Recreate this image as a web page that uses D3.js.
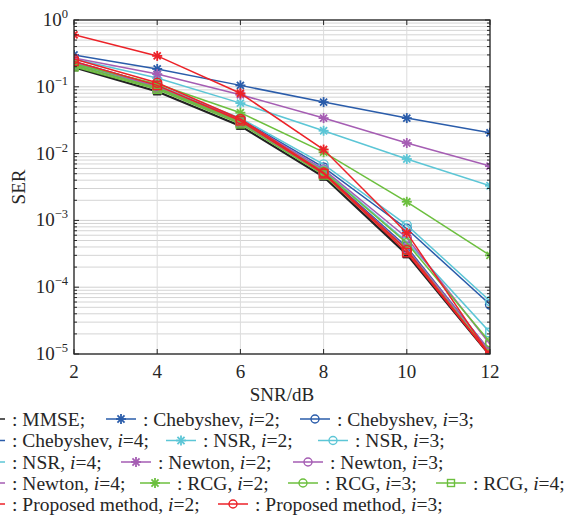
<!DOCTYPE html>
<html>
<head>
<meta charset="utf-8">
<script src="https://cdn.jsdelivr.net/npm/d3@7"></script>
<style>
  body { margin: 0; background: #fff; }
  svg { display: block; font-family: "Liberation Serif", "DejaVu Serif", serif; }
</style>
</head>
<body>
<svg id="chart" width="575" height="521"></svg>
<script>
// data
const snr = [2, 4, 6, 8, 10, 12];
const xTicks = [2, 4, 6, 8, 10, 12];
const yExps = [0, -1, -2, -3, -4, -5];

const mmse = [0.195, 0.085, 0.026, 0.0045, 0.00031, 0.0000095];
const cheb2 = [0.30, 0.185, 0.105, 0.059, 0.034, 0.0205];
const cheb3 = [0.24, 0.105, 0.033, 0.0062, 0.00075, 0.000055];
const cheb4 = [0.22, 0.098, 0.030, 0.0052, 0.00040, 0.000011];
const nsr2 = [0.26, 0.135, 0.057, 0.022, 0.0083, 0.0033];
const nsr3 = [0.23, 0.105, 0.034, 0.0069, 0.00085, 0.000062];
const nsr4 = [0.22, 0.098, 0.031, 0.0056, 0.00048, 0.000021];
const newton2 = [0.27, 0.155, 0.076, 0.034, 0.0144, 0.0065];
const newton3 = [0.23, 0.100, 0.032, 0.0058, 0.00055, 0.000014];
const newton4 = [0.21, 0.095, 0.029, 0.0050, 0.00038, 0.000011];
const rcg2 = [0.22, 0.110, 0.041, 0.0105, 0.0019, 0.0003];
const rcg3 = [0.21, 0.097, 0.030, 0.0054, 0.00046, 0.000015];
const rcg4 = [0.20, 0.092, 0.028, 0.0048, 0.00036, 0.00001];
const prop2 = [0.60, 0.29, 0.080, 0.0115, 0.00065, 0.0000095];
const prop3 = [0.26, 0.115, 0.033, 0.0052, 0.00036, 0.0000095];
const prop4 = [0.24, 0.105, 0.031, 0.0050, 0.00033, 0.0000095];

const BLUE = "#2a5caa", CYAN = "#5cc6d6", PURPLE = "#a55db3", GREEN = "#6cbf3e", RED = "#ec2228";

// draw order: bottom first
const series = [
  { name: "MMSE", vals: mmse, color: "#222", marker: "tri", width: 2.2 },
  { name: "Chebyshev", i: 2, vals: cheb2, color: BLUE, marker: "star" },
  { name: "Chebyshev", i: 3, vals: cheb3, color: BLUE, marker: "circle" },
  { name: "Chebyshev", i: 4, vals: cheb4, color: BLUE, marker: "square" },
  { name: "NSR", i: 2, vals: nsr2, color: CYAN, marker: "star" },
  { name: "NSR", i: 3, vals: nsr3, color: CYAN, marker: "circle" },
  { name: "NSR", i: 4, vals: nsr4, color: CYAN, marker: "square" },
  { name: "Newton", i: 2, vals: newton2, color: PURPLE, marker: "star" },
  { name: "Newton", i: 3, vals: newton3, color: PURPLE, marker: "circle" },
  { name: "Newton", i: 4, vals: newton4, color: PURPLE, marker: "square" },
  { name: "RCG", i: 2, vals: rcg2, color: GREEN, marker: "star" },
  { name: "RCG", i: 3, vals: rcg3, color: GREEN, marker: "circle" },
  { name: "RCG", i: 4, vals: rcg4, color: GREEN, marker: "square" },
  { name: "Proposed method", i: 2, vals: prop2, color: RED, marker: "star" },
  { name: "Proposed method", i: 3, vals: prop3, color: RED, marker: "circle" },
  { name: "Proposed method", i: 4, vals: prop4, color: RED, marker: "square" },
];

// legend rows as they appear (last entry of the original is cut off)
const legendRows = [
  [0, 1, 2],
  [3, 4, 5],
  [6, 7, 8],
  [9, 10, 11, 12],
  [13, 14],
];
// layout: left end of each legend sample line
const legendX = [
  [-25, 106, 300],
  [-25, 166, 318],
  [-25, 121, 293],
  [-25, 140, 288, 436],
  [-25, 218],
];

const svg = d3.select("#chart");
const margin = { top: 20, right: 85, bottom: 167, left: 74 };
const W = 575, H = 521;
const x = d3.scaleLinear().domain([2, 12]).range([margin.left, W - margin.right]);
const y = d3.scaleLog().domain([1e-5, 1]).range([H - margin.bottom, margin.top]);
const [x0, x1] = x.range();
const [y0, y1] = y.range(); // y0 bottom, y1 top

svg.append("defs").append("clipPath").attr("id", "clip")
  .append("rect").attr("x", x0).attr("y", y1).attr("width", x1 - x0).attr("height", y0 - y1);

// grid
const minor = [];
for (let e = -5; e < 0; e++) for (let m = 2; m <= 9; m++) minor.push(m * Math.pow(10, e));
const grid = svg.append("g");
grid.selectAll(".gm").data(minor).enter().append("line")
  .attr("x1", x0).attr("x2", x1).attr("y1", d => y(d)).attr("y2", d => y(d))
  .attr("stroke", "#d4d4d4").attr("stroke-width", 1);
grid.selectAll(".gM").data(yExps).enter().append("line")
  .attr("x1", x0).attr("x2", x1).attr("y1", d => y(Math.pow(10, d))).attr("y2", d => y(Math.pow(10, d)))
  .attr("stroke", "#d0d0d0").attr("stroke-width", 1);
grid.selectAll(".gx").data(xTicks).enter().append("line")
  .attr("x1", d => x(d)).attr("x2", d => x(d)).attr("y1", y1).attr("y2", y0)
  .attr("stroke", "#dcdcdc").attr("stroke-width", 1);

// series
const line = d3.line().x(d => x(d[0])).y(d => y(d[1]));
const plot = svg.append("g").attr("clip-path", "url(#clip)");

function drawMarker(g, type, color, s) {
  if (type === "star") {
    const r = 5;
    for (let k = 0; k < 4; k++) {
      const a = k * Math.PI / 4;
      g.append("line").attr("x1", -r * Math.cos(a)).attr("y1", -r * Math.sin(a))
        .attr("x2", r * Math.cos(a)).attr("y2", r * Math.sin(a))
        .attr("stroke", color).attr("stroke-width", 1.8);
    }
  } else if (type === "circle") {
    g.append("circle").attr("r", s || 4.5).attr("fill", "none").attr("stroke", color).attr("stroke-width", 1.4);
  } else if (type === "square") {
    const h = s || 4.2;
    g.append("rect").attr("x", -h).attr("y", -h).attr("width", 2 * h).attr("height", 2 * h)
      .attr("fill", "none").attr("stroke", color).attr("stroke-width", 1.4);
  } else if (type === "tri") {
    g.append("path").attr("d", "M-4,3.5L4,3.5L0,-4Z").attr("fill", color).attr("stroke", color);
  }
}

series.forEach(s => {
  const pts = snr.map((v, k) => [v, s.vals[k]]);
  plot.append("path").datum(pts).attr("d", line)
    .attr("fill", "none").attr("stroke", s.color).attr("stroke-width", s.width || 1.5);
  pts.forEach(p => {
    const g = plot.append("g").attr("transform", `translate(${x(p[0])},${y(p[1])})`);
    drawMarker(g, s.marker, s.color);
  });
});

// axes box and ticks
const ax = svg.append("g").attr("stroke", "#262626").attr("stroke-width", 1);
ax.append("rect").attr("x", x0).attr("y", y1).attr("width", x1 - x0).attr("height", y0 - y1)
  .attr("fill", "none").attr("stroke-width", 1.3);
xTicks.forEach(t => {
  ax.append("line").attr("x1", x(t)).attr("x2", x(t)).attr("y1", y0).attr("y2", y0 - 5);
  ax.append("line").attr("x1", x(t)).attr("x2", x(t)).attr("y1", y1).attr("y2", y1 + 5);
});
yExps.forEach(e => {
  const yy = y(Math.pow(10, e));
  ax.append("line").attr("x1", x0).attr("x2", x0 + 5).attr("y1", yy).attr("y2", yy);
  ax.append("line").attr("x1", x1).attr("x2", x1 - 5).attr("y1", yy).attr("y2", yy);
});
minor.forEach(v => {
  ax.append("line").attr("x1", x0).attr("x2", x0 + 3).attr("y1", y(v)).attr("y2", y(v));
  ax.append("line").attr("x1", x1).attr("x2", x1 - 3).attr("y1", y(v)).attr("y2", y(v));
});

// tick labels
const lab = svg.append("g").attr("fill", "#262626");
lab.selectAll(".xt").data(xTicks).enter().append("text")
  .attr("x", d => x(d)).attr("y", y0 + 24).attr("text-anchor", "middle")
  .attr("font-size", 19).text(d => d);
yExps.forEach(e => {
  const t = lab.append("text").attr("x", x0 - 6).attr("y", y(Math.pow(10, e)) + 6)
    .attr("text-anchor", "end").attr("font-size", 19);
  t.append("tspan").text("10");
  t.append("tspan").attr("font-size", 12.5).attr("dy", -8).text(e === 0 ? "0" : "\u2212" + (-e));
});
lab.append("text").attr("x", (x0 + x1) / 2).attr("y", y0 + 47).attr("text-anchor", "middle")
  .attr("font-size", 19).text("SNR/dB");
lab.append("text").attr("transform", `translate(25,${(y0 + y1) / 2}) rotate(-90)`)
  .attr("text-anchor", "middle").attr("font-size", 19).text("SER");

// legend (first column clipped by the page edge, as in the original)
const legend = svg.append("g");
const rowY = [419, 440.5, 462, 483, 504];
const lineLen = 30;
legendRows.forEach((row, r) => {
  row.forEach((idx, c) => {
    const s = series[idx];
    const g = legend.append("g").attr("transform", `translate(${legendX[r][c]},${rowY[r]})`);
    g.append("line").attr("x1", 0).attr("x2", lineLen).attr("stroke", s.color).attr("stroke-width", 1.5);
    const mg = g.append("g").attr("transform", `translate(${lineLen / 2},0)`);
    if (s.marker !== "tri") drawMarker(mg, s.marker, s.color, s.marker === "circle" ? 4 : 3.5);
    const t = g.append("text").attr("x", lineLen + 7).attr("y", 6.5).attr("font-size", 19.5).attr("fill", "#262626");
    if (s.i) {
      t.append("tspan").text(": " + s.name + ", ");
      t.append("tspan").attr("font-style", "italic").text("i");
      t.append("tspan").text("=" + s.i + ";");
    } else {
      t.append("tspan").text(": " + s.name + ";");
    }
  });
});
</script>
</body>
</html>
